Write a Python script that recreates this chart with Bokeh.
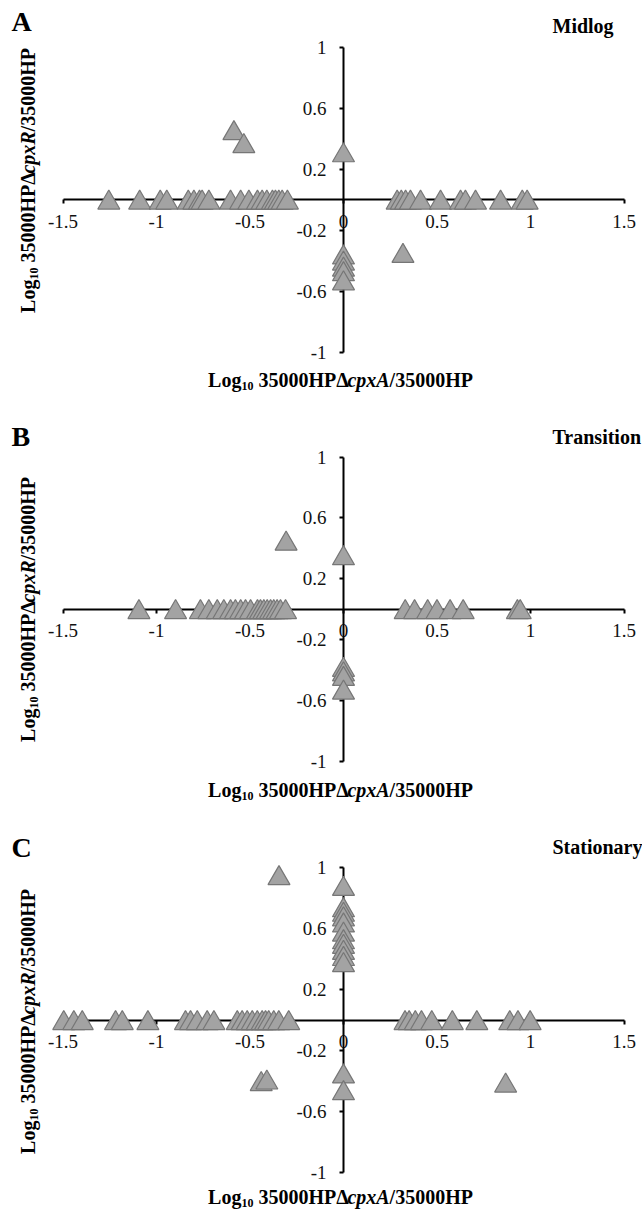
import math
from bokeh.plotting import figure
from bokeh.models import Range1d, FixedTicker, Label, ColumnDataSource
from bokeh.layouts import column
from bokeh.transform import dodge
from bokeh.embed import file_html
from bokeh.resources import INLINE

# ---------------- data ----------------
x_ticks = [-1.5, -1, -0.5, 0, 0.5, 1, 1.5]
x_tick_labels = ["-1.5", "-1", "-0.5", "0", "0.5", "1", "1.5"]
y_ticks = [-1, -0.6, -0.2, 0.2, 0.6, 1]
y_tick_labels = ["-1", "-0.6", "-0.2", "0.2", "0.6", "1"]

panel_letters = ["A", "B", "C"]
phases = ["Midlog", "Transition", "Stationary"]
x_title_main = "35000HP"
x_mutant = "cpxA"
y_mutant = "cpxR"

# Panel A - Midlog
midlog_x = [-1.255, -1.09, -0.98, -0.945, -0.83, -0.80, -0.77, -0.756, -0.72,
            -0.604, -0.55, -0.506, -0.46, -0.435, -0.41, -0.38, -0.364, -0.346,
            -0.328, -0.30,
            0.287, 0.309, 0.332, 0.358, 0.412, 0.519, 0.626, 0.652, 0.706,
            0.84, 0.956, 0.982,
            -0.586, -0.533, 0.0, 0.0, 0.0, 0.0, 0.0, 0.0, 0.318]
midlog_y = [0.0] * 20 + [0.0] * 12 + \
           [0.455, 0.37, 0.31, -0.36, -0.40, -0.44, -0.47, -0.53, -0.35]

# Panel B - Transition
transition_x = [-1.094, -0.898, -0.765, -0.72, -0.675, -0.64, -0.604, -0.578,
                -0.55, -0.524, -0.497, -0.46, -0.444, -0.426, -0.408, -0.39,
                -0.373, -0.355, -0.337, -0.31,
                0.33, 0.38, 0.45, 0.50, 0.57, 0.64, 0.93, 0.945,
                -0.307, 0.0, 0.0, 0.0, 0.0, 0.0]
transition_y = [0.0] * 20 + [0.0] * 8 + \
               [0.45, 0.354, -0.38, -0.41, -0.44, -0.53]

# Panel C - Stationary
stationary_x = [-1.496, -1.442, -1.397, -1.219, -1.183, -1.046, -0.845, -0.818,
                -0.782, -0.729, -0.693, -0.568, -0.542, -0.515, -0.488, -0.461,
                -0.435, -0.417, -0.40, -0.373, -0.346, -0.293,
                0.329, 0.351, 0.384, 0.417, 0.472, 0.582, 0.713, 0.889, 0.933,
                0.998,
                -0.345, 0.0, 0.0, 0.0, 0.0, 0.0, 0.0, 0.0, 0.0, 0.0, 0.0, 0.0,
                0.0, 0.0, -0.44, -0.41, 0.867]
stationary_y = [0.0] * 22 + [0.0] * 10 + \
               [0.95, 0.88, 0.74, 0.71, 0.68, 0.64, 0.58, 0.53, 0.50, 0.46,
                0.42, 0.38, -0.35, -0.46, -0.40, -0.39, -0.41]

series_x = [midlog_x, transition_x, stationary_x]
series_y = [midlog_y, transition_y, stationary_y]

# ---------------- layout (reference pixel geometry) ----------------
PX0, UX = 343.0, 187.0          # x=0 position and px per unit
REF_X0, REF_X1 = 0.0, 642.0
# positions below are the vertical centres (ref px) of the texts
panels = [
    dict(y0=199.0, uy=152.5, top=0.0, bot=400.0,
         xt_mid=379.5, yt_center=180.0, let_mid=21.0, ph_mid=25.0),
    dict(y0=608.5, uy=152.0, top=400.0, bot=806.0,
         xt_mid=789.0, yt_center=609.0, let_mid=436.0, ph_mid=436.5),
    dict(y0=1019.5, uy=152.5, top=806.0, bot=1212.0,
         xt_mid=1196.5, yt_center=1021.0, let_mid=847.0, ph_mid=846.0),
]

SERIF = "Liberation Serif"
W_BOLD = {'L': 667, 'o': 500, 'g': 500, ' ': 250, '0': 500, '1': 500,
          '3': 500, '5': 500, 'H': 778, 'P': 611, '\u0394': 560, '/': 278}
W_BI = {'c': 444, 'p': 500, 'x': 500, 'A': 667, 'R': 667}
F = 20
SUB = 12
SUB_DROP = 6
MARKER = 22
# a Bokeh triangle is placed by its centroid; shift it so its box is centred
MARKER_SHIFT_PX = MARKER * math.sqrt(3) / 2 / 6


def tw(s, table, size):
    return sum(table[c] for c in s) / 1000.0 * size


def title_pieces(mutant):
    # (text, style, size, drop, width table, leading gap)
    return [("Log", "bold", F, 0, W_BOLD, 0.0),
            ("10", "bold", SUB, SUB_DROP, W_BOLD, 0.0),
            (x_title_main + "\u0394", "bold", F, 0, W_BOLD, 0.25 * F),
            (mutant, "bold italic", F, 0, W_BI, 0.0),
            ("/" + x_title_main, "bold", F, 0, W_BOLD, 0.0)]


def piece_w(pc):
    s, st, sz, dr, tb, gap = pc
    return gap + tw(s, tb, sz)


figs = []
for k, pd in enumerate(panels):
    h = int(pd["bot"] - pd["top"])
    y0, uy = pd["y0"], pd["uy"]

    def xd(xr):
        return (xr - PX0) / UX

    def yd(yr, y0=y0, uy=uy):
        return (y0 - yr) / uy

    p = figure(width=int(REF_X1 - REF_X0), height=h,
               x_range=Range1d(xd(REF_X0), xd(REF_X1)),
               y_range=Range1d(yd(pd["bot"]), yd(pd["top"])),
               output_backend="svg", toolbar_location=None,
               min_border=0, outline_line_color=None,
               background_fill_color="white", border_fill_color="white")
    p.xgrid.visible = False
    p.ygrid.visible = False

    for ax, ticks, labels, bnds in ((p.xaxis[0], x_ticks, x_tick_labels, (-1.5, 1.5)),
                                    (p.yaxis[0], y_ticks, y_tick_labels, (-1, 1))):
        ax.fixed_location = 0
        ax.bounds = bnds
        ax.ticker = FixedTicker(ticks=ticks)
        ax.major_label_overrides = {t: l for t, l in zip(ticks, labels)}
        ax.minor_tick_line_color = None
        ax.major_tick_in = 0
        ax.major_tick_out = 4
        ax.axis_line_width = 2
        ax.axis_line_color = "black"
        ax.major_tick_line_width = 2
        ax.major_tick_line_color = "black"
        ax.major_label_text_font = SERIF
        ax.major_label_text_font_size = "19px"
        ax.major_label_text_color = "#111111"
        ax.axis_label = None
    p.xaxis[0].major_label_standoff = 11
    p.yaxis[0].major_label_standoff = 13

    src = ColumnDataSource(dict(x=series_x[k], y=series_y[k]))
    r = p.scatter(x="x", y=dodge("y", -MARKER_SHIFT_PX / uy, range=p.y_range),
                  source=src, marker="triangle", size=MARKER,
                  fill_color="#a3a3a3", line_color="#767676", line_width=1.2)
    r.level = "annotation"

    # panel letter and phase
    p.add_layout(Label(x=xd(11), y=yd(pd["let_mid"]), text=panel_letters[k],
                       text_font=SERIF, text_font_style="bold",
                       text_font_size="28px", text_align="left",
                       text_baseline="middle", text_color="black"))
    p.add_layout(Label(x=xd(552), y=yd(pd["ph_mid"]), text=phases[k],
                       text_font=SERIF, text_font_style="bold",
                       text_font_size="20px", text_align="left",
                       text_baseline="middle", text_color="black"))

    # x title (horizontal, pieces)
    pcs = title_pieces(x_mutant)
    total = sum(piece_w(pc) for pc in pcs)
    cx = 340.0 - total / 2
    for pc in pcs:
        s, st, sz, dr, tb, gap = pc
        cx += gap
        p.add_layout(Label(x=xd(cx), y=yd(pd["xt_mid"] + dr), text=s,
                           text_font=SERIF, text_font_style=st,
                           text_font_size=f"{sz}px", text_align="left",
                           text_baseline="middle", text_color="black"))
        cx += tw(s, tb, sz)

    # y title (rotated, pieces)
    pcs = title_pieces(y_mutant)
    total = sum(piece_w(pc) for pc in pcs)
    cy = pd["yt_center"] + total / 2
    bx = 27.0
    for pc in pcs:
        s, st, sz, dr, tb, gap = pc
        cy -= gap
        p.add_layout(Label(x=xd(bx + dr), y=yd(cy), text=s, angle=math.pi / 2,
                           text_font=SERIF, text_font_style=st,
                           text_font_size=f"{sz}px", text_align="left",
                           text_baseline="middle", text_color="black"))
        cy -= tw(s, tb, sz)

    figs.append(p)

layout = column(*figs, spacing=0)
open("out.html", "w").write(file_html(layout, INLINE))
